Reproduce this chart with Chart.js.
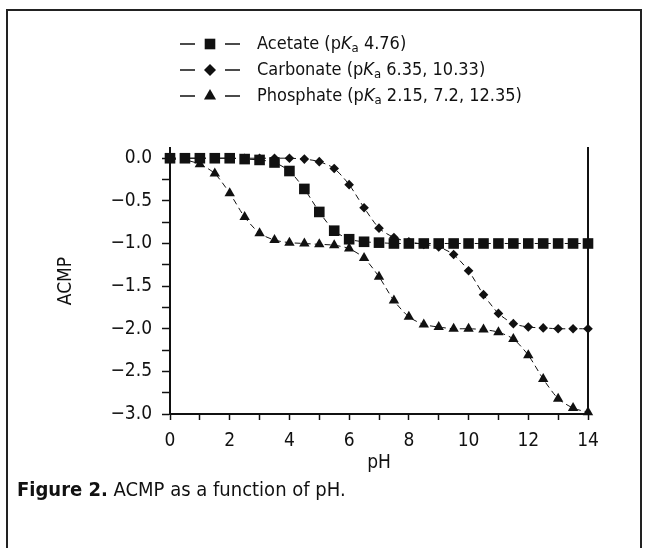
<!DOCTYPE html>
<html>
<head>
<meta charset="utf-8">
<script src="https://cdn.jsdelivr.net/npm/chart.js@4.4.1/dist/chart.umd.min.js"></script>
<style>
  html, body { margin: 0; padding: 0; background: #fff; }
  body {
    width: 645px; height: 548px; position: relative; overflow: hidden;
    font-family: 'Liberation Sans Narrow', 'DejaVu Sans Condensed', sans-serif;
  }
  .frame {
    position: absolute; left: 6px; top: 9px; width: 632px; height: 560px;
    border: 2px solid #222; border-bottom: none;
  }
  .chart-box { position: absolute; left: 0; top: 0; width: 645px; height: 520px; }
  .caption {
    position: absolute; left: 17px; top: 477px;
    font-size: 20px; line-height: 24px; color: #111;
  }
</style>
</head>
<body>
<div class="frame"></div>
<div class="chart-box"><canvas id="acmp" width="645" height="520"></canvas></div>
<div class="caption"><b>Figure 2.</b> ACMP as a function of pH.</div>
<script>
// pH values along the x axis
const phValues = [0, 0.5, 1, 1.5, 2, 2.5, 3, 3.5, 4, 4.5, 5, 5.5, 6, 6.5, 7,
  7.5, 8, 8.5, 9, 9.5, 10, 10.5, 11, 11.5, 12, 12.5, 13, 13.5, 14];

// ACMP, one value per pH point
const acetate = [0, 0, 0, 0, 0, -0.01, -0.02, -0.05, -0.15, -0.36, -0.63, -0.85, -0.95, -0.98, -0.99,
  -1.0, -1.0, -1.0, -1.0, -1.0, -1.0, -1.0, -1.0, -1.0, -1.0, -1.0, -1.0, -1.0, -1.0];
const carbonate = [0, 0, 0, 0, 0, 0, 0, 0, 0, -0.01, -0.04, -0.12, -0.31, -0.58, -0.82,
  -0.93, -0.98, -1.01, -1.04, -1.13, -1.32, -1.6, -1.82, -1.94, -1.98, -1.99, -2.0, -2.0, -2.0];
const phosphate = [-0.01, -0.02, -0.07, -0.18, -0.41, -0.69, -0.88, -0.96, -0.99, -1.0, -1.01, -1.02, -1.06, -1.17, -1.39,
  -1.67, -1.86, -1.95, -1.98, -2.0, -2.0, -2.01, -2.04, -2.12, -2.31, -2.59, -2.82, -2.93, -2.98];

const seriesNames = ["Acetate", "Carbonate", "Phosphate"];
const seriesPka = ["4.76", "6.35, 10.33", "2.15, 7.2, 12.35"];

const xTicks = [0, 1, 2, 3, 4, 5, 6, 7, 8, 9, 10, 11, 12, 13, 14];
const yTicks = [0, -0.25, -0.5, -0.75, -1, -1.25, -1.5, -1.75, -2, -2.25, -2.5, -2.75, -3];

const FONT = "'Liberation Sans Narrow', 'DejaVu Sans Condensed', sans-serif";
const INK = "#111";

const toPoints = (ys) => phValues.map((x, i) => ({ x: x, y: ys[i] }));

function makeSeries(i, ys, style, radius, legendRadius) {
  return {
    label: seriesNames[i] + " (pKa " + seriesPka[i] + ")",
    data: toPoints(ys),
    borderColor: INK,
    backgroundColor: INK,
    borderWidth: 1,
    borderDash: [6, 4],
    tension: 0.25,
    pointStyle: style,
    pointRadius: radius,
    pointHoverRadius: radius,
    pointBorderWidth: 0,
    legendRadius: legendRadius,
    clip: false,
  };
}

// legend stacked in three rows: line, marker, line, then the label with italic K and subscript a
const stackedLegend = {
  id: "stackedLegend",
  afterDraw(chart) {
    const ctx = chart.ctx;
    const x0 = 180, y0 = 44, rowGap = 26;
    chart.data.datasets.forEach((ds, i) => {
      const y = y0 + i * rowGap;
      ctx.save();
      ctx.strokeStyle = INK;
      ctx.lineWidth = 1.5;
      ctx.beginPath();
      ctx.moveTo(x0, y); ctx.lineTo(x0 + 15, y);
      ctx.moveTo(x0 + 45, y); ctx.lineTo(x0 + 60, y);
      ctx.stroke();
      ctx.fillStyle = INK;
      Chart.helpers.drawPoint(ctx, { pointStyle: ds.pointStyle, radius: ds.legendRadius, rotation: 0, borderWidth: 0 }, x0 + 30, y);

      let tx = x0 + 77;
      ctx.textBaseline = "middle";
      ctx.textAlign = "left";
      const parts = [
        { t: seriesNames[i] + " (p", f: "18px " + FONT, dy: 0 },
        { t: "K", f: "italic 18px " + FONT, dy: 0 },
        { t: "a", f: "13px " + FONT, dy: 5 },
        { t: " " + seriesPka[i] + ")", f: "18px " + FONT, dy: 0 },
      ];
      parts.forEach((p) => {
        ctx.font = p.f;
        ctx.fillText(p.t, tx, y + p.dy);
        tx += ctx.measureText(p.t).width;
      });
      ctx.restore();
    });
  },
};

const tickLabel = (v) => {
  if (Math.abs(v * 2 - Math.round(v * 2)) > 1e-6) return "";
  return v === 0 ? "0.0" : "\u2212" + Math.abs(v).toFixed(1);
};

new Chart(document.getElementById("acmp"), {
  type: "line",
  data: {
    datasets: [
      makeSeries(0, acetate, "rect", 7.5, 7.5),
      makeSeries(1, carbonate, "rectRot", 4.8, 6),
      makeSeries(2, phosphate, "triangle", 6, 7),
    ],
  },
  options: {
    responsive: false,
    animation: false,
    devicePixelRatio: 1,
    layout: { padding: { top: 148, right: 57, left: 0, bottom: 0 } },
    plugins: {
      legend: { display: false },
      tooltip: { enabled: false },
    },
    scales: {
      x: {
        type: "linear",
        position: "bottom",
        min: 0,
        max: 14,
        afterBuildTicks: (scale) => { scale.ticks = xTicks.map((v) => ({ value: v })); },
        afterFit: (scale) => { scale.height = 106; },
        ticks: {
          callback: (v) => (v % 2 === 0 ? String(v) : ""),
          autoSkip: false,
          maxRotation: 0,
          padding: 10,
          color: INK,
          font: { family: FONT, size: 19 },
        },
        grid: { drawOnChartArea: false, tickLength: 6, tickWidth: 1.5, color: INK },
        border: { color: INK, width: 2 },
        title: {
          display: true,
          text: "pH",
          color: INK,
          font: { family: FONT, size: 19 },
          padding: { top: 0, bottom: 46 },
        },
      },
      y: {
        position: "left",
        min: -3,
        max: 0.12,
        afterBuildTicks: (scale) => { scale.ticks = yTicks.map((v) => ({ value: v })); },
        afterFit: (scale) => { scale.width = 170; },
        ticks: {
          callback: tickLabel,
          autoSkip: false,
          padding: 10,
          color: INK,
          font: { family: FONT, size: 19 },
        },
        grid: { drawOnChartArea: false, tickLength: 8, tickWidth: 1.5, color: INK },
        border: { color: INK, width: 2 },
        title: {
          display: true,
          text: "ACMP",
          color: INK,
          font: { family: FONT, size: 19 },
          padding: { top: 55, bottom: 0 },
        },
      },
      yRight: {
        position: "right",
        min: -3,
        max: 0.12,
        afterFit: (scale) => { scale.width = 0; },
        ticks: { display: false },
        grid: { display: false, drawTicks: false },
        border: { color: INK, width: 2 },
      },
    },
  },
  plugins: [stackedLegend],
});
</script>
</body>
</html>
